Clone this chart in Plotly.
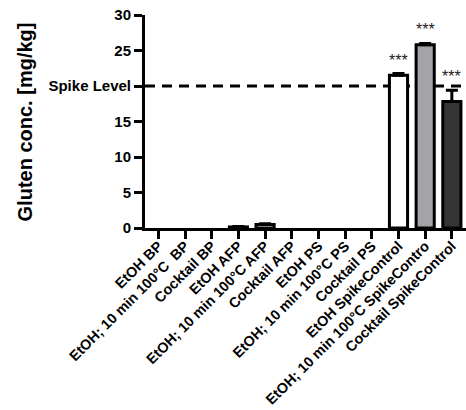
import plotly.graph_objects as go

categories = ["EtOH BP", "EtOH; 10 min 100°C  BP", "Cocktail BP", "EtOH AFP",
              "EtOH; 10 min 100°C AFP", "Cocktail AFP", "EtOH PS",
              "EtOH; 10 min 100°C PS", "Cocktail PS", "EtOH SpikeControl",
              "EtOH; 10 min 100°C SpikeContro", "Cocktail SpikeControl"]
values = [0, 0, 0, 0.15, 0.5, 0, 0, 0, 0, 21.5, 25.8, 17.8]
errors = [0, 0, 0, 0.05, 0.1, 0, 0, 0, 0, 0.25, 0.2, 1.6]
colors = ["white"] * 10 + ["#a4a4a8", "#353535"]
sig_labels = [""] * 9 + ["***", "***", "***"]
spike_level = 20
ytick_vals = [0, 5, 10, 15, 20, 25, 30]
ytick_text = ["0", "5", "10", "15", "Spike Level", "25", "30"]

font_family = "Liberation Sans, Arial, sans-serif"
outline_widths = [3 if v > 0 else 0 for v in values]

fig = go.Figure()
fig.add_trace(go.Bar(
    x=categories, y=values,
    marker=dict(color=colors, line=dict(color="black", width=outline_widths)),
    width=0.68,
    showlegend=False,
))

# error bars only where there is an error
err_idx = [i for i, e in enumerate(errors) if e > 0]
fig.add_trace(go.Scatter(
    x=[categories[i] for i in err_idx], y=[values[i] for i in err_idx],
    mode="markers", marker=dict(size=0.1, color="rgba(0,0,0,0)"),
    error_y=dict(type="data", array=[errors[i] for i in err_idx],
                 arrayminus=[0] * len(err_idx), symmetric=False,
                 color="black", thickness=3, width=6),
    showlegend=False, hoverinfo="skip",
))

for c, v, e, s in zip(categories, values, errors, sig_labels):
    if s:
        fig.add_annotation(x=c, y=v + e, text=s, showarrow=False,
                           yanchor="bottom", yshift=3,
                           font=dict(family=font_family, size=16, color="#222222"))

fig.add_shape(type="line", xref="paper", yref="y", x0=0, x1=1,
              y0=spike_level, y1=spike_level, layer="below",
              line=dict(color="black", width=3, dash="10px,7px"))

fig.add_annotation(xref="paper", yref="paper", x=-0.374, y=0.5,
                   text="<b>Gluten conc. [mg/kg]</b>", textangle=-90,
                   showarrow=False, xanchor="center", yanchor="middle",
                   font=dict(family=font_family, size=20, color="black"))

fig.update_layout(
    width=466, height=410,
    margin=dict(l=145, r=0, t=15, b=182),
    plot_bgcolor="white", paper_bgcolor="white",
    bargap=0.3,
    xaxis=dict(range=[-0.5, 11.53], showline=True, linecolor="black", linewidth=3,
               ticks="outside", ticklen=8, tickwidth=2.5, tickcolor="black",
               tickangle=-45, automargin=False, showgrid=False, zeroline=False,
               ticklabelstandoff=-7,
               tickfont=dict(family=font_family, size=14.4, color="black", weight="bold")),
    yaxis=dict(range=[0, 30], showline=True, linecolor="black", linewidth=3,
               ticks="outside", ticklen=8, tickwidth=2.5, tickcolor="black",
               tickvals=ytick_vals, ticktext=ytick_text, automargin=False,
               showgrid=False, zeroline=False,
               tickfont=dict(family=font_family, size=15, color="black", weight="bold")),
)

fig.write_html("out.html")
